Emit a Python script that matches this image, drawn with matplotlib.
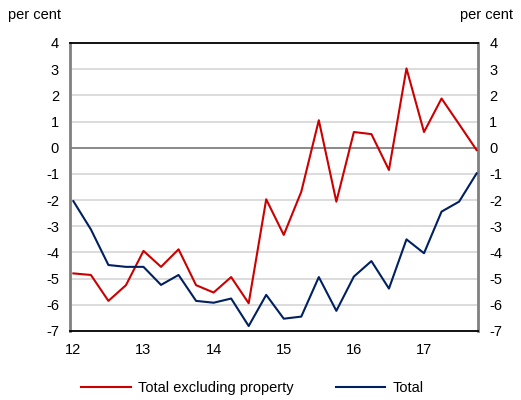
import matplotlib
matplotlib.use("Agg")
import matplotlib.pyplot as plt
from matplotlib.lines import Line2D

plt.rcParams['font.family'] = ['Liberation Sans', 'DejaVu Sans']
plt.rcParams['axes.unicode_minus'] = False

quarters = list(range(24))  # 2012 Q1 .. 2017 Q4
tick_labels = ["12", "13", "14", "15", "16", "17"]
excl_property = [-4.80, -4.86, -5.85, -5.25, -3.94, -4.55, -3.88, -5.25, -5.53, -4.94,
                 -5.94, -1.97, -3.33, -1.68, 1.05, -2.06, 0.60, 0.52, -0.85, 3.03,
                 0.60, 1.88, 0.90, -0.09]
total = [-2.04, -3.12, -4.48, -4.55, -4.55, -5.24, -4.86, -5.85, -5.92, -5.76,
         -6.81, -5.62, -6.53, -6.45, -4.94, -6.23, -4.92, -4.33, -5.38, -3.50,
         -4.03, -2.44, -2.06, -0.98]

fig = plt.figure(figsize=(5.21, 4.00), dpi=100)
ax = fig.add_axes([0.1344, 0.1725, 0.9175 - 0.1344, 0.8925 - 0.1725])

red = '#cc0000'
navy = '#002060'

for y in range(-7, 5):
    if y == 0:
        ax.axhline(0, color='#808080', lw=1.3, zorder=1)
    else:
        ax.axhline(y, color='#d9d9d9', lw=1.3, zorder=0)

ax.plot(quarters, excl_property, color=red, lw=1.5, zorder=3)
ax.plot(quarters, total, color=navy, lw=1.5, zorder=3)

ax.set_xlim(-0.19, 23.08)
ax.set_ylim(-7, 4)
ax.set_yticks(range(-7, 5))
ax.set_xticks([0, 4, 8, 12, 16, 20])
ax.set_xticklabels(tick_labels)
ax.tick_params(axis='both', length=0, labelsize=10.5, colors='black')
ax.tick_params(axis='y', which='both', labelleft=True, labelright=True, pad=8)
ax.tick_params(axis='x', pad=9)

for s in ['top', 'bottom']:
    ax.spines[s].set_color('black')
    ax.spines[s].set_linewidth(1.3)
for s in ['left', 'right']:
    ax.spines[s].set_color('#808080')
    ax.spines[s].set_linewidth(2.0)

fig.text(8 / 521, 1 - 15 / 400, 'per cent', fontsize=10.5, ha='left', va='center')
fig.text(513 / 521, 1 - 15 / 400, 'per cent', fontsize=10.5, ha='right', va='center')

handles = [Line2D([], [], color=red, lw=1.5), Line2D([], [], color=navy, lw=1.5)]
fig.legend(handles, ['Total excluding property', 'Total'], loc='center left',
           bbox_to_anchor=(68 / 521, 1 - 388 / 400), ncol=2, frameon=False,
           fontsize=10.5, handlelength=3.4, columnspacing=2.9, handletextpad=0.5)

fig.savefig('out.png', dpi=100)
